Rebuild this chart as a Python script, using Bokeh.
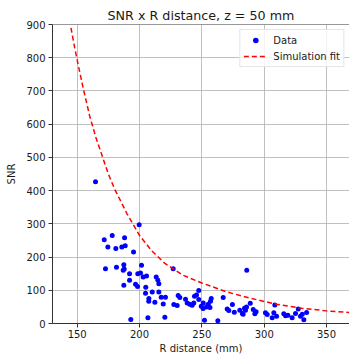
from bokeh.plotting import figure
from bokeh.models import Range1d, Span, Legend, LegendItem, FixedTicker
from bokeh.embed import file_html
from bokeh.resources import INLINE

# ---- data ----
R_data = [164.7, 199.7, 171.7, 178.1, 188.0, 174.6, 181.0, 185.8, 188.5, 195.2,
          172.7, 181.5, 187.4, 186.9, 187.7, 192.0, 198.6, 200.8, 201.6, 202.9,
          205.6, 187.4, 192.0, 196.8, 198.4, 205.0, 204.8, 207.5, 206.7, 193.0,
          213.4, 214.7, 215.5, 210.2, 215.5, 207.4, 212.3, 217.4, 220.8, 219.0,
          227.0, 220.3, 227.5, 230.2, 231.0, 232.3, 236.9, 238.2, 240.3, 242.2,
          243.5, 244.1, 245.7, 247.5, 247.5, 249.5, 251.1, 252.1, 253.7, 255.1,
          256.9, 257.5, 262.8, 267.1, 270.3, 271.6, 274.5, 276.0, 280.4, 282.5,
          284.2, 285.8, 286.0, 288.8, 291.2, 292.5, 285.0, 283.1, 251.0, 256.5,
          301.0, 302.4, 306.4, 307.7, 308.5, 309.9, 315.7, 317.1, 319.0, 322.4,
          325.1, 327.3, 329.1, 330.5, 331.8, 334.0, 293.5]
SNR_data = [427, 297, 252, 265, 258, 230, 226, 230, 234, 215,
            165, 169, 177, 160, 164, 150, 150, 152, 175, 140,
            143, 115, 130, 118, 111, 109, 91, 75, 17, 12,
            140, 130, 120, 95, 95, 67, 64, 79, 79, 59,
            165, 19, 57, 54, 84, 78, 73, 62, 58, 55,
            62, 82, 86, 99, 72, 52, 62, 10, 50, 58,
            67, 75, 8, 78, 44, 39, 57, 34, 40, 30,
            46, 50, 160, 61, 42, 29, 40, 28, 45, 48,
            32, 27, 17, 32, 56, 22, 29, 23, 25, 17,
            30, 44, 22, 28, 11, 33, 35]

fit_R = [145, 148, 151, 155, 160, 165, 170, 175, 180, 190, 200, 210, 220,
         235, 250, 270, 290, 310, 330, 350, 368]
fit_SNR = [890, 830, 775, 705, 625, 560, 505, 450, 405, 330, 265, 218, 182,
           145, 122, 95, 75, 58, 46, 38, 33]

x_ticks = [150, 200, 250, 300, 350]
y_ticks = [0, 100, 200, 300, 400, 500, 600, 700, 800, 900]

FONT = "DejaVu Sans"
TXT = "#1a1a1a"

p = figure(width=349, height=356, output_backend="svg", toolbar_location=None,
           x_range=Range1d(130.2, 368.4), y_range=Range1d(0, 900),
           min_border_left=52, min_border_right=0, min_border_top=24,
           min_border_bottom=32)

p.title.text = "SNR x R distance, z = 50 mm"
p.title.align = "center"
p.title.text_font = FONT
p.title.text_font_size = "12.7px"
p.title.text_font_style = "normal"
p.title.text_color = TXT
p.title.standoff = 3

p.outline_line_color = None
p.background_fill_color = "white"
p.border_fill_color = "white"

for ax in (p.xaxis[0], p.yaxis[0]):
    ax.axis_line_color = "#333333"
    ax.axis_line_width = 1
    ax.major_tick_line_color = "#333333"
    ax.major_tick_out = 4
    ax.major_tick_in = 0
    ax.minor_tick_line_color = None
    ax.major_label_text_font = FONT
    ax.major_label_text_font_size = "10px"
    ax.major_label_text_color = TXT
    ax.axis_label_text_font = FONT
    ax.axis_label_text_font_size = "10px"
    ax.axis_label_text_font_style = "normal"
    ax.axis_label_text_color = TXT

p.xaxis.ticker = FixedTicker(ticks=x_ticks)
p.yaxis.ticker = FixedTicker(ticks=y_ticks)
p.xaxis.axis_label = "R distance (mm)"
p.yaxis.axis_label = "SNR"
p.xaxis.major_label_standoff = 2
p.xaxis.axis_label_standoff = 2
p.yaxis.major_label_standoff = 3
p.yaxis.axis_label_standoff = 6

p.grid.grid_line_color = "#b0b0b0"
p.grid.grid_line_width = 0.8

p.add_layout(Span(location=900, dimension="width", line_color="#333333", line_width=1))

r_data = p.scatter(R_data, SNR_data, size=5, color="#0000ff", line_color=None)
r_fit = p.line(fit_R, fit_SNR, line_color="#ff0000", line_width=1.5, line_dash="5 3")

legend = Legend(items=[LegendItem(label="Data", renderers=[r_data]),
                       LegendItem(label="Simulation fit", renderers=[r_fit])],
                location="top_right")
legend.label_text_font = FONT
legend.label_text_font_size = "10px"
legend.label_text_color = TXT
legend.label_height = 14
legend.glyph_height = 14
legend.glyph_width = 24
legend.label_standoff = 6
legend.spacing = 2
legend.padding = 3
legend.margin = 5
legend.border_line_color = "#cccccc"
legend.border_line_width = 1
legend.background_fill_alpha = 0.8
p.add_layout(legend)

open("out.html", "w").write(file_html(p, INLINE))
